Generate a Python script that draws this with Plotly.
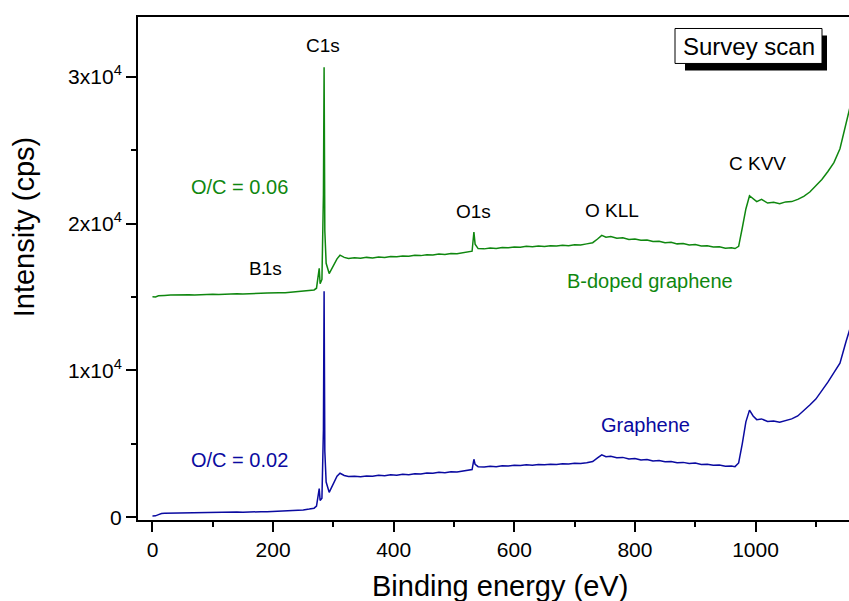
import plotly.graph_objects as go

# ---- data ----
energy = [0, 5, 10, 15, 20, 30, 40, 50, 60, 70, 80, 90, 100, 110, 120, 130, 140, 150, 160, 170,
          180, 190, 200, 210, 220, 230, 240, 250, 260, 268, 272, 275, 276.5, 278, 281, 283.5, 284.6,
          285.8, 288, 293, 300, 306, 311, 318, 325, 335, 345, 355, 365, 375, 385, 395, 405, 415, 425,
          435, 445, 455, 465, 475, 485, 495, 505, 515, 525, 530, 533, 535, 540, 550, 560, 570, 580,
          590, 600, 610, 620, 630, 640, 650, 660, 670, 680, 690, 700, 710, 720, 730, 738, 745, 752,
          760, 770, 780, 790, 800, 810, 820, 830, 840, 850, 860, 870, 880, 890, 900, 910, 920, 930,
          940, 950, 960, 966, 972, 978, 984, 990, 996, 1002, 1010, 1020, 1030, 1040, 1050, 1060,
          1070, 1080, 1090, 1100, 1110, 1120, 1130, 1140, 1150, 1160]

b_doped = [15020, 15010, 15080, 15120, 15110, 15130, 15150, 15120, 15160, 15140, 15170, 15160, 15190,
           15180, 15200, 15190, 15220, 15210, 15240, 15230, 15260, 15270, 15260, 15290, 15300, 15330,
           15350, 15380, 15420, 15480, 15600, 16600, 16950, 15900, 16200, 22000, 30650, 19500, 17300,
           16600, 17100, 17600, 17850, 17700, 17620, 17680, 17640, 17700, 17660, 17730, 17700, 17760,
           17740, 17800, 17770, 17840, 17820, 17880, 17860, 17930, 17900, 17970, 17950, 18020, 18060,
           18120, 19430, 18600, 18300, 18280, 18340, 18310, 18380, 18350, 18410, 18390, 18450, 18420,
           18470, 18440, 18500, 18470, 18530, 18500, 18560, 18540, 18620, 18700, 18950, 19200, 19080,
           19120, 19000, 19030, 18920, 18950, 18860, 18880, 18780, 18800, 18700, 18730, 18620, 18650,
           18540, 18570, 18470, 18490, 18400, 18430, 18330, 18360, 18300, 18450, 19700, 21000, 21900,
           21700, 21500, 21650, 21400, 21450, 21350, 21480, 21500, 21650, 21850, 22150, 22550, 23000,
           23550, 24150, 25100, 26800, 28500]

graphene = [90, 100, 180, 260, 270, 280, 300, 290, 320, 310, 330, 320, 340, 330, 350, 340, 360, 350,
            370, 360, 380, 370, 390, 380, 400, 450, 470, 500, 560, 620, 760, 1700, 1950, 1150, 1300,
            6000, 15400, 4500, 2400, 1700, 2300, 2800, 3000, 2850, 2780, 2800, 2760, 2820, 2790, 2860,
            2830, 2890, 2860, 2930, 2900, 2970, 2950, 3020, 3000, 3060, 3040, 3100, 3080, 3150, 3170,
            3250, 3950, 3600, 3450, 3430, 3480, 3450, 3510, 3490, 3540, 3520, 3570, 3550, 3600, 3580,
            3620, 3600, 3650, 3630, 3680, 3660, 3720, 3800, 4050, 4250, 4120, 4150, 4050, 4080, 3970,
            4000, 3900, 3930, 3840, 3870, 3780, 3800, 3720, 3740, 3660, 3690, 3600, 3620, 3540, 3560,
            3480, 3500, 3450, 3700, 5000, 6500, 7300, 6900, 6650, 6700, 6520, 6560, 6480, 6600, 6700,
            6900, 7250, 7650, 8050, 8600, 9200, 9850, 10500, 11950, 13300]

y_tick_vals = [0, 10000, 20000, 30000]
y_tick_text = ["0", "1x10<sup>4</sup>", "2x10<sup>4</sup>", "3x10<sup>4</sup>"]

peak_labels = ["C1s", "B1s", "O1s", "O KLL", "C KVV"]
peak_x = [283, 188, 532, 762, 1003]
peak_y = [32130, 16970, 20850, 20900, 24100]

GREEN = "#0F870F"
BLUE = "#0A0AA0"
FONT = "Arial, Liberation Sans, sans-serif"

fig = go.Figure()
fig.add_trace(go.Scatter(x=energy, y=graphene, mode="lines", line=dict(color=BLUE, width=1.5),
                         name="Graphene", showlegend=False))
fig.add_trace(go.Scatter(x=energy, y=b_doped, mode="lines", line=dict(color=GREEN, width=1.5),
                         name="B-doped graphene", showlegend=False))

# plot area in pixels
L, R, T, B = 138, 849, 16.5, 520
W, H = R - L, B - T
def px(x):
    return (x - L) / W
def py(y):
    return (B - y) / H

fig.update_layout(
    width=849, height=601,
    margin=dict(l=L, r=849 - R, t=T, b=601 - B),
    paper_bgcolor="white", plot_bgcolor="white",
    font=dict(family=FONT, color="black"),
)
fig.update_xaxes(range=[-24, 1155], showgrid=False, zeroline=False,
                 showline=True, linecolor="black", linewidth=2, mirror=True,
                 ticks="outside", ticklen=10, tickwidth=2, tickcolor="black",
                 tick0=0, dtick=200, tickfont=dict(size=21, family=FONT),
                 minor=dict(dtick=100, tick0=0, ticks="outside", ticklen=5, tickwidth=2, tickcolor="black"))
fig.update_yaxes(range=[-184, 34070], showgrid=False, zeroline=False,
                 showline=True, linecolor="black", linewidth=2,
                 ticks="outside", ticklen=10, tickwidth=2, tickcolor="black",
                 tickmode="array", tickvals=y_tick_vals, ticktext=y_tick_text,
                 tickfont=dict(size=21, family=FONT),
                 minor=dict(tickmode="array", tickvals=[5000, 15000, 25000], ticks="outside",
                            ticklen=5, tickwidth=2, tickcolor="black"))

for t, x, y in zip(peak_labels, peak_x, peak_y):
    fig.add_annotation(x=x, y=y, text=t, showarrow=False, font=dict(size=19, color="black"),
                       xanchor="center", yanchor="middle")

fig.add_annotation(x=145, y=22470, text="O/C = 0.06", showarrow=False, font=dict(size=20, color=GREEN),
                   xanchor="center", yanchor="middle")
fig.add_annotation(x=825, y=16090, text="B-doped graphene", showarrow=False, font=dict(size=20, color=GREEN),
                   xanchor="center", yanchor="middle")
fig.add_annotation(x=818, y=6280, text="Graphene", showarrow=False, font=dict(size=20, color=BLUE),
                   xanchor="center", yanchor="middle")
fig.add_annotation(x=145, y=3900, text="O/C = 0.02", showarrow=False, font=dict(size=20, color=BLUE),
                   xanchor="center", yanchor="middle")

# Survey scan box with drop shadow
fig.add_shape(type="rect", xref="paper", yref="paper", x0=px(685), x1=px(827), y0=py(70), y1=py(35),
              fillcolor="black", line=dict(width=0), layer="above")
fig.add_shape(type="rect", xref="paper", yref="paper", x0=px(675), x1=px(822), y0=py(63), y1=py(28),
              fillcolor="white", line=dict(color="black", width=1), layer="above")
fig.add_annotation(xref="paper", yref="paper", x=px(749), y=py(46), text="Survey scan", showarrow=False,
                   xanchor="center", yanchor="middle", font=dict(size=24, color="black"))

# axis titles
fig.add_annotation(xref="paper", yref="paper", x=px(24), y=py(226), text="Intensity (cps)", textangle=-90,
                   xanchor="center", yanchor="middle", showarrow=False, font=dict(size=29, color="black"))
fig.add_annotation(xref="paper", yref="paper", x=px(500), y=py(568), xanchor="center", yanchor="top",
                   text="Binding energy (eV)", showarrow=False, font=dict(size=29, color="black"))

fig.write_html("out.html")
